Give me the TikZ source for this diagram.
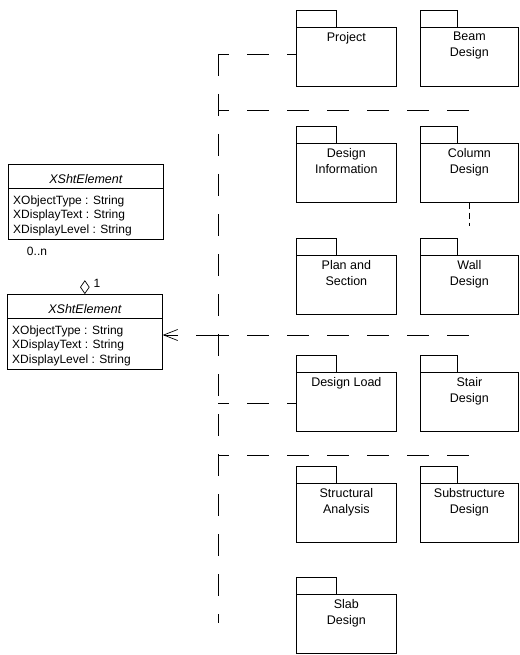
\documentclass[tikz,border=0pt]{standalone}
\usepackage{fontspec}
\setmainfont{Liberation Sans}
\usetikzlibrary{arrows.meta,calc,shapes.geometric}

\tikzset{
  line/.style={draw=black, line width=0.7pt},
  dep/.style={line, dash pattern=on 22pt off 18pt},
  branch/.style={dep, dash phase=11pt},
  depend/.style={dep, -{Straight Barb[length=14pt,width=11pt]}},
  pkgbody/.style={line, rectangle, minimum width=100pt, minimum height=59pt,
    inner sep=0pt, anchor=north west},
  pkgname/.style={font=\fontsize{12.5}{16}\selectfont, align=center,
    inner sep=0pt, anchor=north},
  clsbox/.style={line, rectangle, minimum width=155pt, minimum height=75pt,
    inner sep=0pt, anchor=north west},
  clstitle/.style={font=\fontsize{12.5}{15}\selectfont\itshape, inner sep=0pt},
  clsattr/.style={font=\fontsize{12}{14.6}\selectfont, align=left,
    inner sep=0pt, anchor=north west},
  aggdiamond/.style={line, diamond, inner sep=0pt, minimum width=9pt,
    minimum height=13pt, anchor=south},
  mult/.style={font=\fontsize{12}{14}\selectfont, inner sep=0pt}
}

% UML package: name, left x, body top y, tab width, label, body width
\newcommand\umlpackage[6]{%
  \node[pkgbody, minimum width=#6] (#1) at (#2,#3) {};
  \draw[line] (#1.north west) -- ++(0,-17) -- ++(#4,0) -- ++(0,17);
  \node[pkgname] (#1-label) at ([yshift=-5pt]#1.north) {#5};
}

% UML class XShtElement: name, left x, top y
\newcommand\umlclass[3]{%
  \node[clsbox] (#1) at (#2,#3) {};
  \draw[line] ([yshift=-24pt]#1.north west) -- ([yshift=-24pt]#1.north east);
  \node[clstitle] (#1-title) at ([yshift=-15pt]#1.north) {XShtElement};
  \node[clsattr] (#1-attr) at ([xshift=5pt,yshift=-31.5pt]#1.north west)
    {XObjectType : String\\XDisplayText : String\\XDisplayLevel : String};
}

\begin{document}
\begin{tikzpicture}[x=1pt,y=-1pt]
  \useasboundingbox (0,0) rectangle (519,655);

  % classes
  \umlclass{clsA}{8}{164}
  \umlclass{clsB}{7}{294}
  \node[aggdiamond] (agg) at (clsB.north) {};
  \node[mult] (multOne) at ([xshift=12pt,yshift=11pt]clsB.north) {1};
  \node[mult] (multMany) at ([xshift=29pt,yshift=-12pt]clsA.south west) {0..n};

  % packages
  \umlpackage{proj}{296}{27}{40}{Project}{100pt}
  \umlpackage{beam}{420}{27}{37}{Beam\\Design}{98pt}
  \umlpackage{info}{296}{143}{40}{Design\\Information}{100pt}
  \umlpackage{col}{420}{143}{37}{Column\\Design}{98pt}
  \umlpackage{plan}{296}{255}{40}{Plan and\\Section}{100pt}
  \umlpackage{wall}{420}{255}{37}{Wall\\Design}{98pt}
  \umlpackage{load}{296}{372}{40}{Design Load}{100pt}
  \umlpackage{stair}{420}{372}{37}{Stair\\Design}{98pt}
  \umlpackage{ana}{296}{483}{40}{Structural\\Analysis}{100pt}
  \umlpackage{sub}{420}{483}{37}{Substructure\\Design}{98pt}
  \umlpackage{slab}{296}{594}{40}{Slab\\Design}{100pt}

  % dependency bus
  \coordinate (busTop) at (218,54);
  \coordinate (busBot) at (218,623);
  \coordinate (busA) at (218,110);
  \coordinate (busB) at (218,335);
  \coordinate (busC) at (218,403);
  \coordinate (busD) at (218,455);

  \draw[dep] (busTop) -- (busBot);
  \draw[branch] (busTop) -- (busTop -| proj.west);
  \draw[branch] (busA) -- (busA -| beam.center);
  \draw[branch] (busB) -- (busB -| beam.center);
  \draw[depend] (busB) -- (busB -| clsB.east);
  \draw[branch] (busC) -- (busC -| load.west);
  \draw[branch] (busD) -- (busD -| sub.center);
  \draw[dep, dash pattern=on 6pt off 4pt] (col.south) -- ++(0,23);
\end{tikzpicture}
\end{document}
